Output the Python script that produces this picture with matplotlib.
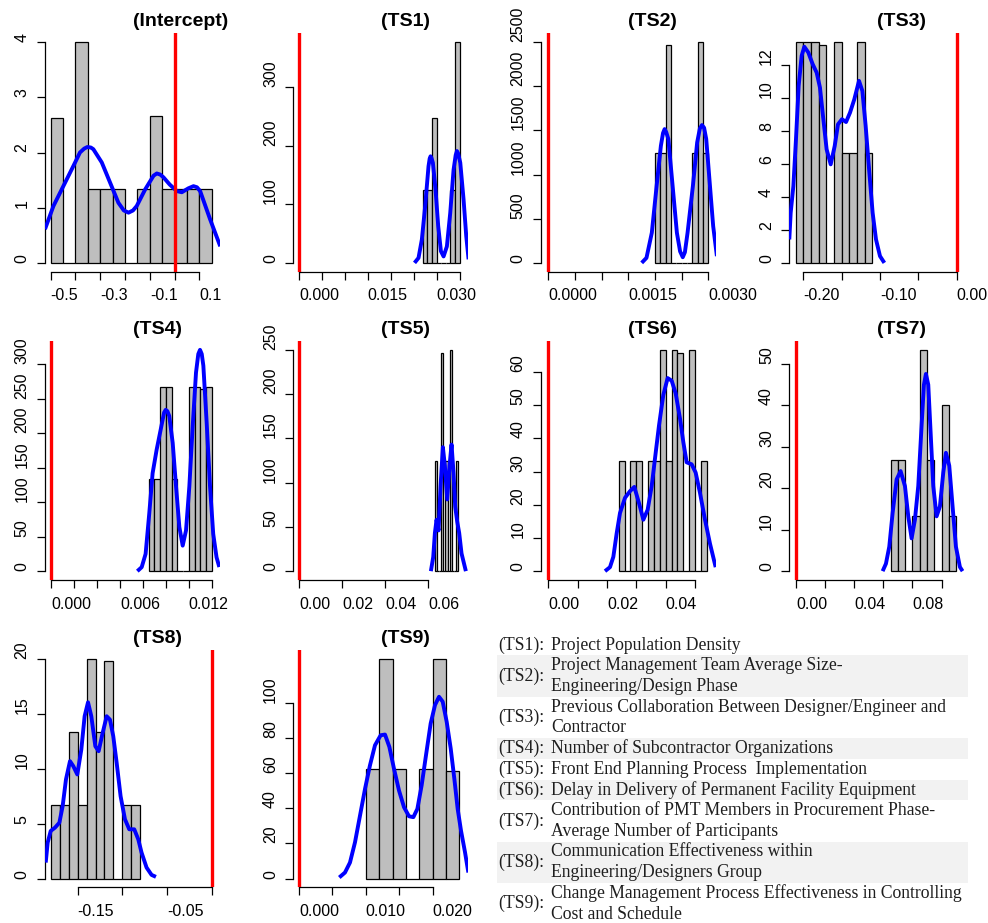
import numpy as np
import matplotlib.pyplot as plt
from matplotlib.patches import Rectangle

plt.rcParams['font.family'] = ['Liberation Sans', 'DejaVu Sans']

W, H = 988, 923

# ---------------- histogram bins (density scale) ----------------
int_edges = [-0.50, -0.45, -0.40, -0.35, -0.30, -0.25, -0.20, -0.15, -0.10, -0.05, 0.00, 0.05, 0.10, 0.15]
int_heights = [2.63, 0, 4.0, 1.33, 1.33, 1.33, 0, 1.33, 2.67, 1.33, 1.33, 1.33, 1.33]

ts1_edges = [0.027, 0.028, 0.029, 0.030, 0.031, 0.032, 0.033, 0.034, 0.035]
ts1_heights = [125, 125, 247, 0, 0, 0, 125, 377]

ts2_edges = [0.0020, 0.0021, 0.0022, 0.0023, 0.0024, 0.0025, 0.0026, 0.0027, 0.0028, 0.0029, 0.0030]
ts2_heights = [1250, 1250, 2470, 0, 0, 0, 0, 1250, 2500, 1250]

ts3_edges = [-0.21, -0.20, -0.19, -0.18, -0.17, -0.16, -0.15, -0.14, -0.13, -0.12, -0.11]
ts3_heights = [13.4, 13.4, 13.4, 13.2, 0, 13.4, 6.7, 6.7, 13.4, 6.7]

ts4_edges = [0.0085, 0.0090, 0.0095, 0.0100, 0.0105, 0.0110, 0.0115, 0.0120, 0.0125, 0.0130, 0.0135, 0.0140]
ts4_heights = [133, 133, 267, 267, 133, 0, 0, 267, 267, 264, 267]

ts5_edges = [0.063, 0.064, 0.065, 0.066, 0.067, 0.068, 0.069, 0.070, 0.071, 0.072, 0.073, 0.074]
ts5_heights = [125, 0, 0, 247, 0, 125, 0, 250, 0, 0, 125]

ts6_edges = [0.024, 0.026, 0.028, 0.030, 0.032, 0.034, 0.036, 0.038, 0.040, 0.042, 0.044, 0.046, 0.048, 0.050, 0.052, 0.054]
ts6_heights = [33.3, 0, 33.3, 33.3, 0, 33.3, 33.3, 66.7, 33.3, 66.7, 65.8, 0, 66.7, 0, 33.3]

ts7_edges = [0.065, 0.070, 0.075, 0.080, 0.085, 0.090, 0.095, 0.100, 0.105, 0.110]
ts7_heights = [26.7, 26.7, 0, 13.3, 53.3, 26.7, 0, 40.0, 13.3]

ts8_edges = [-0.18, -0.17, -0.16, -0.15, -0.14, -0.13, -0.12, -0.11, -0.10, -0.09, -0.08]
ts8_heights = [6.67, 6.67, 13.3, 6.67, 20.0, 13.3, 19.8, 0, 6.67, 6.67]

ts9_edges = [0.010, 0.012, 0.014, 0.016, 0.018, 0.020, 0.022, 0.024]
ts9_heights = [62.5, 125, 62.5, 0, 62.5, 125, 61]

# ---------------- kernel density curves ----------------
int_dx = [-0.523, -0.489, -0.449, -0.408, -0.382, -0.365, -0.352, -0.338, -0.328, -0.294, -0.26, -0.227,
          -0.205, -0.186, -0.168, -0.153, -0.119, -0.085, -0.072, -0.058, -0.045, -0.02, 0.009, 0.029,
          0.055, 0.076, 0.09, 0.103, 0.143, 0.184]
int_dy = [0.61, 1.03, 1.39, 1.76, 2.0, 2.07, 2.10, 2.09, 2.06, 1.82, 1.45, 1.09,
          0.95, 0.91, 0.95, 1.03, 1.33, 1.58, 1.62, 1.60, 1.55, 1.42, 1.30, 1.28,
          1.35, 1.39, 1.37, 1.30, 0.79, 0.30]

ts1_dx = [0.02518, 0.02605, 0.02678, 0.0275, 0.02823, 0.02848, 0.02867, 0.02888, 0.02918, 0.02976,
          0.03034, 0.03093, 0.03151, 0.03223, 0.03296, 0.03369, 0.03415, 0.03442, 0.03468, 0.03515,
          0.03587, 0.03645, 0.03696]
ts1_dy = [0, 8.5, 40, 97, 165, 178, 182, 179, 171, 125,
          63, 20, 11, 28, 85, 159, 184, 191, 187, 171,
          108, 46, 6]

ts2_dx = [0.00175, 0.00184, 0.00194, 0.00203, 0.00211, 0.00215, 0.00218, 0.00221, 0.00225, 0.00233,
          0.00241, 0.00247, 0.00252, 0.00256, 0.00261, 0.00271, 0.00279, 0.00284, 0.00288, 0.00292,
          0.00296, 0.00303, 0.00309, 0.00316]
ts2_dy = [0, 57, 341, 871, 1326, 1470, 1515, 1480, 1402, 871,
          341, 130, 64, 120, 341, 871, 1364, 1520, 1561, 1530,
          1402, 871, 417, 76]

ts3_dx = [-0.2183, -0.2165, -0.213, -0.2096, -0.2061, -0.2022, -0.1987, -0.1935, -0.1878, -0.1826,
          -0.1783, -0.1739, -0.1696, -0.1643, -0.1591, -0.1548, -0.1496, -0.1443, -0.1391, -0.1335,
          -0.1274, -0.123, -0.1187, -0.1139, -0.1096, -0.1052, -0.1, -0.0943]
ts3_dy = [1.42, 3.04, 4.66, 7.5, 10.74, 12.57, 13.12, 12.77, 12.06, 11.55,
          10.64, 8.72, 6.89, 5.98, 7.09, 8.41, 8.72, 8.55, 9.12, 9.93,
          11.05, 10.44, 8.31, 5.47, 3.04, 1.42, 0.41, 0]

ts4_dx = [0.00752, 0.0079, 0.00824, 0.00856, 0.00885, 0.0092, 0.00961, 0.00985, 0.00999, 0.01014,
          0.0103, 0.0106, 0.01089, 0.01118, 0.01147, 0.01176, 0.01205, 0.01234, 0.01263, 0.01283,
          0.01298, 0.01313, 0.01327, 0.01356, 0.01385, 0.01413, 0.01442, 0.01466]
ts4_dy = [0, 5.8, 25, 84, 142, 176, 210, 230, 234, 232,
          225, 186, 123, 64, 37, 59, 123, 210, 288, 315,
          321, 315, 298, 215, 123, 54, 20, 6]

ts5_dx = [0.06123, 0.06232, 0.06309, 0.06386, 0.06479, 0.06572, 0.0668, 0.06773, 0.06881, 0.06989,
          0.07082, 0.07175, 0.07252, 0.07345, 0.07438, 0.07546, 0.07747]
ts5_dy = [0, 16, 43, 58, 46, 96, 140, 119, 81, 119, 143, 111, 73, 56, 43, 20, 0]

ts6_dx = [0.01932, 0.02102, 0.02216, 0.0233, 0.02443, 0.02614, 0.02784, 0.02932, 0.03091, 0.03239,
          0.03386, 0.03523, 0.03648, 0.03773, 0.0392, 0.04068, 0.04205, 0.04341, 0.04489, 0.04602,
          0.04716, 0.04886, 0.05023, 0.0517, 0.05341, 0.05511, 0.05705]
ts6_dy = [0, 1.2, 4.3, 11.4, 17.5, 22.1, 24.1, 25.4, 20.5, 15.5,
          18.5, 25.6, 34.8, 43.9, 53.1, 58.2, 57.4, 53.6, 46.0, 38.9,
          32.8, 32.2, 29.7, 23.6, 15.5, 8.3, 1.2]

ts7_dx = [0.0595, 0.06178, 0.06407, 0.06636, 0.06911, 0.07185, 0.07483, 0.07712, 0.07941, 0.08169,
          0.08398, 0.08627, 0.08787, 0.08924, 0.09085, 0.09245, 0.09428, 0.09657, 0.09886, 0.10114,
          0.10297, 0.10526, 0.10755, 0.10984, 0.11259, 0.11442]
ts7_dy = [0, 1.8, 5.9, 14.0, 22.1, 24.1, 20.5, 13.2, 7.9, 12.4,
          20.5, 35.1, 44.9, 47.5, 44.9, 33.5, 20.5, 13.2, 15.6, 23.7,
          28.5, 25.4, 15.6, 5.9, 1.0, 0]

ts8_dx = [-0.1858, -0.1836, -0.1802, -0.1754, -0.1705, -0.1668, -0.1631, -0.1586, -0.1549, -0.1504,
          -0.1459, -0.1422, -0.1384, -0.1347, -0.1302, -0.1265, -0.122, -0.1175, -0.1138, -0.1101,
          -0.1063, -0.1019, -0.097, -0.0922, -0.0866, -0.0821, -0.0784, -0.0728, -0.0672, -0.0623]
ts8_dy = [1.45, 3.27, 4.33, 4.63, 5.08, 6.6, 9.02, 10.68, 10.23, 9.47,
          11.74, 14.77, 16.04, 14.77, 12.04, 11.59, 13.25, 14.77, 14.46, 12.95,
          10.53, 7.5, 5.39, 4.48, 4.48, 3.57, 2.36, 1.0, 0.33, 0.15]

ts9_dx = [0.00603, 0.00688, 0.00763, 0.00838, 0.00913, 0.00988, 0.01062, 0.01137, 0.01222, 0.01287,
          0.01352, 0.01421, 0.01496, 0.01571, 0.01646, 0.01711, 0.01771, 0.01835, 0.019, 0.0197,
          0.02035, 0.02095, 0.0215, 0.0221, 0.0227, 0.02324, 0.02374, 0.02424, 0.02484, 0.02534]
ts9_dy = [0.6, 3.4, 9.1, 20.6, 35.8, 51.0, 64.4, 75.8, 81.5, 81.9,
          74.9, 62.5, 50.1, 40.6, 35.4, 34.9, 39.6, 53.0, 70.1, 88.2,
          98.7, 103.4, 100.6, 89.1, 73.9, 56.8, 39.6, 27.2, 14.9, 3.4]

# ---------------- axis ticks ----------------
int_xticks = [-0.5, -0.4, -0.3, -0.2, -0.1, 0.0, 0.1]
int_xlabels = ["-0.5", "", "-0.3", "", "-0.1", "", "0.1"]
ts1_xticks = [0.0, 0.005, 0.010, 0.015, 0.020, 0.025, 0.030, 0.035]
ts1_xlabels = ["0.000", "", "", "0.015", "", "", "0.030", ""]
ts2_xticks = [0.0, 0.0005, 0.0010, 0.0015, 0.0020, 0.0025, 0.0030]
ts2_xlabels = ["0.0000", "", "", "0.0015", "", "", "0.0030"]
ts3_xticks = [-0.20, -0.15, -0.10, -0.05, 0.00]
ts3_xlabels = ["-0.20", "", "-0.10", "", "0.00"]
ts4_xticks = [0.0, 0.002, 0.004, 0.006, 0.008, 0.010, 0.012, 0.014]
ts4_xlabels = ["0.000", "", "", "0.006", "", "", "0.012", ""]
ts5_xticks = [0.0, 0.02, 0.04, 0.06]
ts5_xlabels = ["0.00", "0.02", "0.04", "0.06"]
ts6_xticks = [0.0, 0.01, 0.02, 0.03, 0.04, 0.05]
ts6_xlabels = ["0.00", "", "0.02", "", "0.04", ""]
ts7_xticks = [0.0, 0.02, 0.04, 0.06, 0.08, 0.10]
ts7_xlabels = ["0.00", "", "0.04", "", "0.08", ""]
ts8_xticks = [-0.15, -0.10, -0.05, 0.00]
ts8_xlabels = ["-0.15", "", "-0.05", ""]
ts9_xticks = [0.0, 0.005, 0.010, 0.015, 0.020]
ts9_xlabels = ["0.000", "", "0.010", "", "0.020"]

int_yticks = [0, 1, 2, 3, 4]
ts1_yticks = [0, 100, 200, 300]
ts2_yticks = [0, 500, 1000, 1500, 2000, 2500]
ts3_yticks = [0, 2, 4, 6, 8, 10, 12]
ts4_yticks = [0, 50, 100, 150, 200, 250, 300]
ts5_yticks = [0, 50, 100, 150, 200, 250]
ts6_yticks = [0, 10, 20, 30, 40, 50, 60]
ts7_yticks = [0, 10, 20, 30, 40, 50]
ts8_yticks = [0, 5, 10, 15, 20]
ts9_yticks = [0, 20, 40, 60, 80, 100]

titles = ["(Intercept)", "(TS1)", "(TS2)", "(TS3)", "(TS4)", "(TS5)", "(TS6)", "(TS7)", "(TS8)", "(TS9)"]

# x-range of each plot region
xlims = [(-0.523, 0.183), (-0.00124, 0.0369), (-0.000143, 0.0031375), (-0.2183, 0.00996),
         (-0.000523, 0.01472), (-0.00263, 0.0786), (-0.0026, 0.05706), (-0.0046, 0.1156),
         (-0.1866, 0.0095), (-0.00085, 0.02533)]

edges_all = [int_edges, ts1_edges, ts2_edges, ts3_edges, ts4_edges, ts5_edges, ts6_edges, ts7_edges, ts8_edges, ts9_edges]
heights_all = [int_heights, ts1_heights, ts2_heights, ts3_heights, ts4_heights, ts5_heights, ts6_heights, ts7_heights, ts8_heights, ts9_heights]
dx_all = [int_dx, ts1_dx, ts2_dx, ts3_dx, ts4_dx, ts5_dx, ts6_dx, ts7_dx, ts8_dx, ts9_dx]
dy_all = [int_dy, ts1_dy, ts2_dy, ts3_dy, ts4_dy, ts5_dy, ts6_dy, ts7_dy, ts8_dy, ts9_dy]
xticks_all = [int_xticks, ts1_xticks, ts2_xticks, ts3_xticks, ts4_xticks, ts5_xticks, ts6_xticks, ts7_xticks, ts8_xticks, ts9_xticks]
xlabels_all = [int_xlabels, ts1_xlabels, ts2_xlabels, ts3_xlabels, ts4_xlabels, ts5_xlabels, ts6_xlabels, ts7_xlabels, ts8_xlabels, ts9_xlabels]
yticks_all = [int_yticks, ts1_yticks, ts2_yticks, ts3_yticks, ts4_yticks, ts5_yticks, ts6_yticks, ts7_yticks, ts8_yticks, ts9_yticks]

# legend table on the lower right
tab_labels = ["(TS1):", "(TS2):", "(TS3):", "(TS4):", "(TS5):", "(TS6):", "(TS7):", "(TS8):", "(TS9):"]
tab_lines = [
    ["Project Population Density"],
    ["Project Management Team Average Size-", "Engineering/Design Phase"],
    ["Previous Collaboration Between Designer/Engineer and", "Contractor"],
    ["Number of Subcontractor Organizations"],
    ["Front End Planning Process  Implementation"],
    ["Delay in Delivery of Permanent Facility Equipment"],
    ["Contribution of PMT Members in Procurement Phase-", "Average Number of Participants"],
    ["Communication Effectiveness within", "Engineering/Designers Group"],
    ["Change Management Process Effectiveness in Controlling", "Cost and Schedule"],
]

# ---------------- layout (pixels) ----------------
col_left = [45, 293.3, 540.7, 789.3]
row_top = [33.3, 341, 650]
row_bot = [271.7, 580, 887.3]
pw = 175

fig = plt.figure(figsize=(W / 100, H / 100), dpi=100)

for i in range(10):
    r, c = divmod(i, 4)
    ph = row_bot[r] - row_top[r]
    ax = fig.add_axes([col_left[c] / W, 1 - row_bot[r] / H, pw / W, ph / H])

    e = np.array(edges_all[i])
    h = np.array(heights_all[i])
    ax.bar(e[:-1], h, width=np.diff(e), align='edge', color='#BEBEBE',
           edgecolor='black', linewidth=0.9, zorder=2)
    ax.plot(dx_all[i], dy_all[i], color='#0000FF', lw=2.8, zorder=3,
            solid_capstyle='butt', solid_joinstyle='round')
    ax.axvline(0, color='#FF0000', lw=2.4, zorder=4)

    top = max(h.max(), max(dy_all[i]))
    ax.set_xlim(*xlims[i])
    ax.set_ylim(-0.04 * top, 1.04 * top)

    xt = xticks_all[i]
    yt = yticks_all[i]
    ax.set_xticks(xt, xlabels_all[i], ha='left')
    ax.set_yticks(yt, [str(v) for v in yt], rotation=90, va='bottom')

    for s in ['top', 'right']:
        ax.spines[s].set_visible(False)
    ax.spines['left'].set_bounds(yt[0], yt[-1])
    ax.spines['bottom'].set_bounds(xt[0], xt[-1])
    for s in ['left', 'bottom']:
        ax.spines[s].set_linewidth(0.9)
    ax.tick_params(axis='both', direction='out', length=6, width=0.9, labelsize=11.5, colors='black')
    ax.tick_params(axis='x', pad=6)
    ax.tick_params(axis='y', pad=5)
    ax.patch.set_visible(False)

    ax.text(0.5, 1 + 7 / ph, titles[i], transform=ax.transAxes, ha='left', va='baseline',
            fontsize=14, fontweight='bold')

# ---------------- description table ----------------
y0 = 645
step = 20.7
line = 0
for k, (lab, lines) in enumerate(zip(tab_labels, tab_lines)):
    ys = [y0 + (line + j) * step for j in range(len(lines))]
    if k % 2 == 1:
        fig.patches.append(Rectangle((497 / W, 1 - (ys[-1] + step / 2) / H), (968 - 497) / W,
                                     (ys[-1] - ys[0] + step) / H, transform=fig.transFigure,
                                     facecolor='#F2F2F2', edgecolor='none', zorder=0))
    fig.text(498 / W, 1 - np.mean(ys) / H, lab, ha='left', va='center', fontsize=12.7,
             family='Liberation Serif', color='#1E1E1E')
    for yy, t in zip(ys, lines):
        fig.text(551 / W, 1 - yy / H, t, ha='left', va='center', fontsize=12.7,
                 family='Liberation Serif', color='#1E1E1E')
    line += len(lines)

fig.savefig('out.png', dpi=100)
